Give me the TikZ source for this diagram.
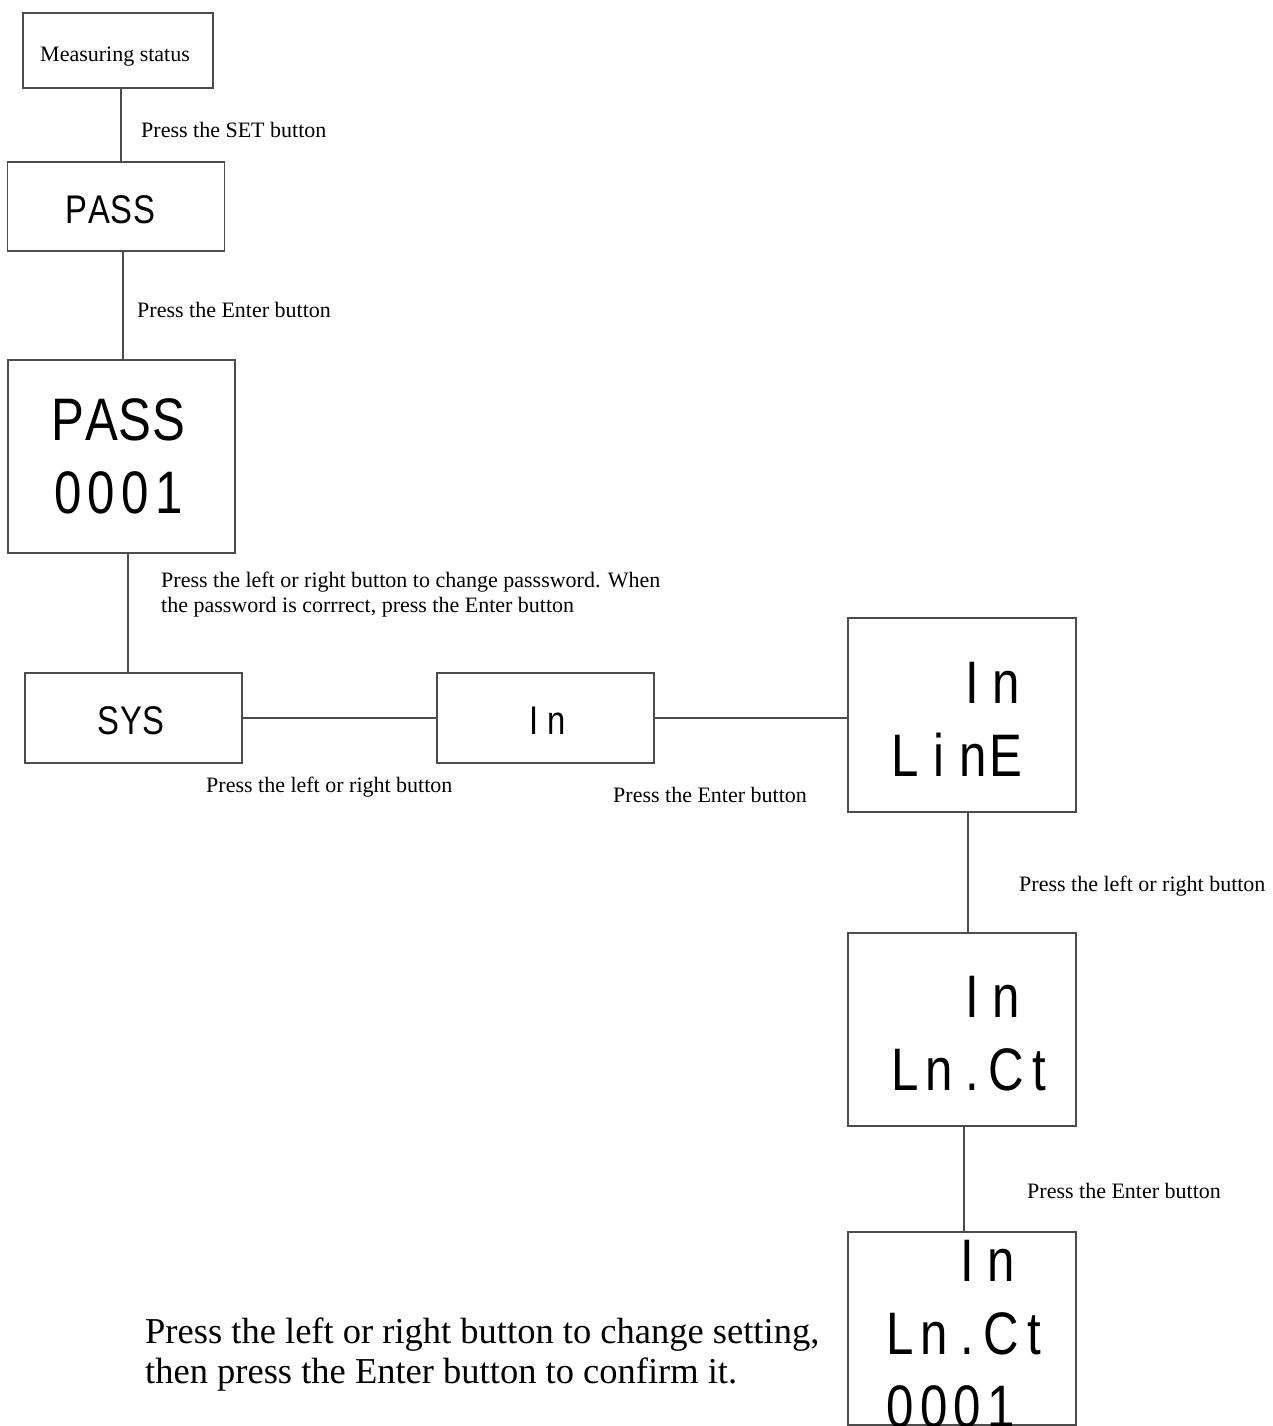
\documentclass[tikz,border=0pt]{standalone}
\usepackage{fontspec}
\setmainfont{Liberation Serif}
\newfontfamily\lcdfont[FakeStretch=0.82]{Liberation Sans}
\newcommand\lcdcells[1]{\lcdcellsaux#1\relax}
\def\lcdcellsaux#1{\ifx\relax#1\else\makebox[0.56em][c]{#1}\expandafter\lcdcellsaux\fi}
\begin{document}
\begin{tikzpicture}[x=1pt,y=-1pt,
  box/.style={draw=black!70,line width=1.2pt,inner sep=0pt},
  conn/.style={draw=black!70,line width=1.2pt},
  lbl/.style={anchor=base west,inner sep=0pt,align=left,font=\fontsize{22}{25}\selectfont},
  note/.style={anchor=base west,inner sep=0pt,align=left,font=\fontsize{36.5}{40}\selectfont},
  lcdtext/.style={anchor=base,inner sep=0pt,align=center},
  lcdS/.style={lcdtext,font=\lcdfont\fontsize{40}{48}\selectfont},
  lcdL/.style={lcdtext,font=\lcdfont\fontsize{60}{73}\selectfont}]
\useasboundingbox (0,0) rectangle (1272,1426);

% boxes
\node[box,minimum width=190,minimum height=75] (b1) at (118,50.5) {};
\node[box,minimum width=217,minimum height=89] (b2) at (116,206.5) {};
\node[box,minimum width=227,minimum height=193] (b3) at (121.5,456.5) {};
\node[box,minimum width=217,minimum height=90] (b4) at (133.5,718) {};
\node[box,minimum width=217,minimum height=90] (b5) at (545.5,718) {};
\node[box,minimum width=228,minimum height=194] (b6) at (962,715) {};
\node[box,minimum width=228,minimum height=193] (b7) at (962,1029.5) {};
\node[box,minimum width=228,minimum height=193] (b8) at (962,1328.5) {};

% box texts
\node[lbl] (t1) at (40,62) {Measuring status};
\node[lcdS] (t2) at (110.5,223) {\lcdcells{PASS}};
\node[lcdL] (t3) at (118.5,513) {\lcdcells{PASS}\\\lcdcells{0001}};
\node[lcdS] (t4) at (131,734) {\lcdcells{SYS}};
\node[lcdS] (t5) at (545,734) {\lcdcells{In}};
\node[lcdL] (t6) at (956,776) {\lcdcells{~~In}\\\lcdcells{LinE}};
\node[lcdL] (t7) at (972.5,1090) {\lcdcells{~~In~}\\\lcdcells{Ln.Ct}};
\node[lcdL] (t8) at (967.5,1427) {\lcdcells{~~In~}\\\lcdcells{Ln.Ct}\\\lcdcells{0001~}};

% connectors
\draw[conn] (121,0 |- b1.south) -- (121,0 |- b2.north);
\draw[conn] (123,0 |- b2.south) -- (123,0 |- b3.north);
\draw[conn] (128,0 |- b3.south) -- (128,0 |- b4.north);
\draw[conn] (b4.east) -- (b5.west);
\draw[conn] (b5.east) -- (b5.east -| b6.west);
\draw[conn] (968,0 |- b6.south) -- (968,0 |- b7.north);
\draw[conn] (964,0 |- b7.south) -- (964,0 |- b8.north);

% labels
\node[lbl] (l1) at (141,137) {Press the SET button};
\node[lbl] (l2) at (137,317) {Press the Enter button};
\node[lbl] (l3) at (161,612) {Press the left or right button to change passsword. When\\the password is corrrect, press the Enter button};
\node[lbl] (l4) at (206,792) {Press the left or right button};
\node[lbl] (l5) at (613,802) {Press the Enter button};
\node[lbl] (l6) at (1019,891) {Press the left or right button};
\node[lbl] (l7) at (1027,1198) {Press the Enter button};
\node[note] (n1) at (145,1383) {Press the left or right button to change setting,\\then press the Enter button to confirm it.};
\end{tikzpicture}
\end{document}
